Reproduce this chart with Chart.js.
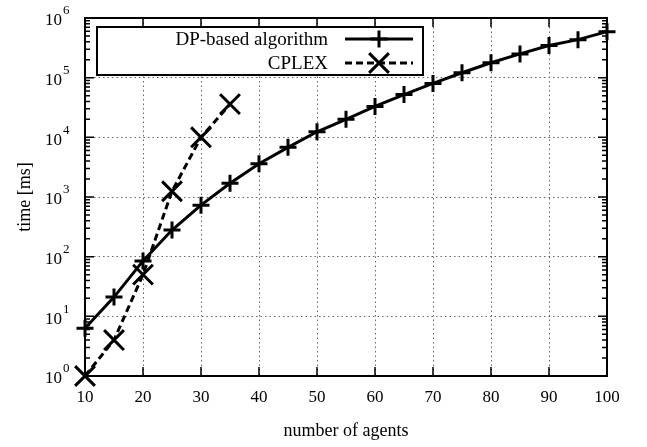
<!DOCTYPE html>
<html>
<head>
<meta charset="utf-8">
<script src="https://cdn.jsdelivr.net/npm/chart.js@4/dist/chart.umd.min.js"></script>
<style>
  html, body { margin: 0; padding: 0; background: #fff; }
</style>
</head>
<body>
<canvas id="myChart" width="647" height="447"></canvas>
<script>
  // data
  const agents = [10, 15, 20, 25, 30, 35, 40, 45, 50, 55, 60, 65, 70, 75, 80, 85, 90, 95, 100];
  const dpTime = [6.3, 21, 85, 280, 730, 1700, 3600, 6800, 12400, 20000, 33000, 52000, 80000, 121000, 178000, 250000, 346000, 434000, 590000];
  const cplexAgents = [10, 15, 20, 25, 30, 35];
  const cplexTime = [1, 4, 50, 1250, 10000, 36000];
  const xTicks = [10, 20, 30, 40, 50, 60, 70, 80, 90, 100];
  const yTicks = [1, 10, 100, 1000, 10000, 100000, 1000000];
  const seriesNames = ['DP-based algorithm', 'CPLEX'];

  const serif = '"Liberation Serif", "Times New Roman", serif';

  function toPoints(xs, ys) {
    return xs.map((v, i) => ({ x: v, y: ys[i] }));
  }

  // gnuplot style frame, mirrored ticks, y labels, titles and legend
  const gnuplotBits = {
    id: 'gnuplotBits',
    afterDatasetsDraw(chart) {
      const ctx = chart.ctx;
      const a = chart.chartArea;
      const x = chart.scales.x;
      const y = chart.scales.y;
      ctx.save();
      ctx.setLineDash([]);
      ctx.strokeStyle = '#000';

      // ticks
      ctx.lineWidth = 1.5;
      ctx.beginPath();
      xTicks.forEach(v => {
        const px = x.getPixelForValue(v);
        ctx.moveTo(px, a.bottom); ctx.lineTo(px, a.bottom - 9);
        ctx.moveTo(px, a.top); ctx.lineTo(px, a.top + 9);
      });
      for (let e = 0; e < 6; e++) {
        for (let m = 1; m < 10; m++) {
          const py = y.getPixelForValue(m * Math.pow(10, e));
          const len = m === 1 ? 9 : 5;
          ctx.moveTo(a.left, py); ctx.lineTo(a.left + len, py);
          ctx.moveTo(a.right, py); ctx.lineTo(a.right - len, py);
        }
      }
      const topPy = y.getPixelForValue(1e6);
      ctx.moveTo(a.left, topPy); ctx.lineTo(a.left + 9, topPy);
      ctx.moveTo(a.right, topPy); ctx.lineTo(a.right - 9, topPy);
      ctx.stroke();

      // border
      ctx.lineWidth = 2;
      ctx.strokeRect(a.left, a.top, a.right - a.left, a.bottom - a.top);

      // y tick labels 10^n
      ctx.fillStyle = '#000';
      ctx.textBaseline = 'middle';
      yTicks.forEach(v => {
        const py = y.getPixelForValue(v);
        ctx.font = '17px ' + serif;
        ctx.textAlign = 'right';
        ctx.fillText('10', 62, py + 3);
        ctx.font = '13px ' + serif;
        ctx.textAlign = 'left';
        ctx.fillText(String(Math.round(Math.log10(v))), 63, py - 7);
      });

      // axis titles
      ctx.font = '18px ' + serif;
      ctx.textAlign = 'center';
      ctx.fillText('number of agents', (a.left + a.right) / 2, 431);
      ctx.save();
      ctx.translate(25, (a.top + a.bottom) / 2);
      ctx.rotate(-Math.PI / 2);
      ctx.fillText('time [ms]', 0, 0);
      ctx.restore();

      // legend
      const box = { l: 97, t: 27, r: 423, b: 75 };
      ctx.fillStyle = '#fff';
      ctx.fillRect(box.l, box.t, box.r - box.l, box.b - box.t);
      ctx.lineWidth = 2;
      ctx.strokeRect(box.l, box.t, box.r - box.l, box.b - box.t);
      const rows = [39, 63];
      chart.data.datasets.forEach((ds, i) => {
        const ry = rows[i];
        ctx.fillStyle = '#000';
        ctx.font = '19px ' + serif;
        ctx.textAlign = 'right';
        ctx.fillText(ds.label, 328, ry + 1);
        ctx.lineWidth = 3;
        ctx.setLineDash(ds.borderDash || []);
        ctx.beginPath();
        ctx.moveTo(345, ry); ctx.lineTo(413, ry);
        ctx.stroke();
        ctx.setLineDash([]);
        Chart.helpers.drawPoint(ctx, {
          pointStyle: ds.pointStyle,
          radius: ds.pointRadius,
          borderWidth: 3
        }, 379, ry);
      });
      ctx.restore();
    }
  };

  const data = {
    datasets: [{
      label: seriesNames[0],
      data: toPoints(agents, dpTime),
      borderColor: '#000',
      backgroundColor: '#000',
      borderWidth: 3,
      pointStyle: 'cross',
      pointRadius: 8.5,
      pointBorderWidth: 3,
      clip: false
    }, {
      label: seriesNames[1],
      data: toPoints(cplexAgents, cplexTime),
      borderColor: '#000',
      backgroundColor: '#000',
      borderWidth: 3,
      borderDash: [7, 4],
      pointStyle: 'crossRot',
      pointRadius: 14,
      pointBorderWidth: 3,
      clip: false
    }]
  };

  const config = {
    type: 'line',
    data: data,
    options: {
      responsive: false,
      animation: false,
      devicePixelRatio: 1,
      layout: { padding: { left: 0, right: 40, top: 18, bottom: 0 } },
      plugins: {
        legend: { display: false },
        tooltip: { enabled: false }
      },
      scales: {
        x: {
          type: 'linear',
          min: 10,
          max: 100,
          afterFit: s => { s.height = 71; },
          afterBuildTicks: s => { s.ticks = xTicks.map(v => ({ value: v })); },
          grid: { color: '#666', lineWidth: 1, drawTicks: false },
          border: { display: false, dash: [1.5, 3] },
          ticks: { color: '#000', font: { family: serif, size: 17 }, padding: 11, maxRotation: 0 }
        },
        y: {
          type: 'logarithmic',
          min: 1,
          max: 1000000,
          afterFit: s => { s.width = 85; },
          afterBuildTicks: s => { s.ticks = yTicks.map(v => ({ value: v })); },
          grid: { color: '#666', lineWidth: 1, drawTicks: false },
          border: { display: false, dash: [1.5, 3] },
          ticks: { display: false }
        }
      }
    },
    plugins: [gnuplotBits]
  };

  const myChart = new Chart(document.getElementById('myChart'), config);
</script>
</body>
</html>
